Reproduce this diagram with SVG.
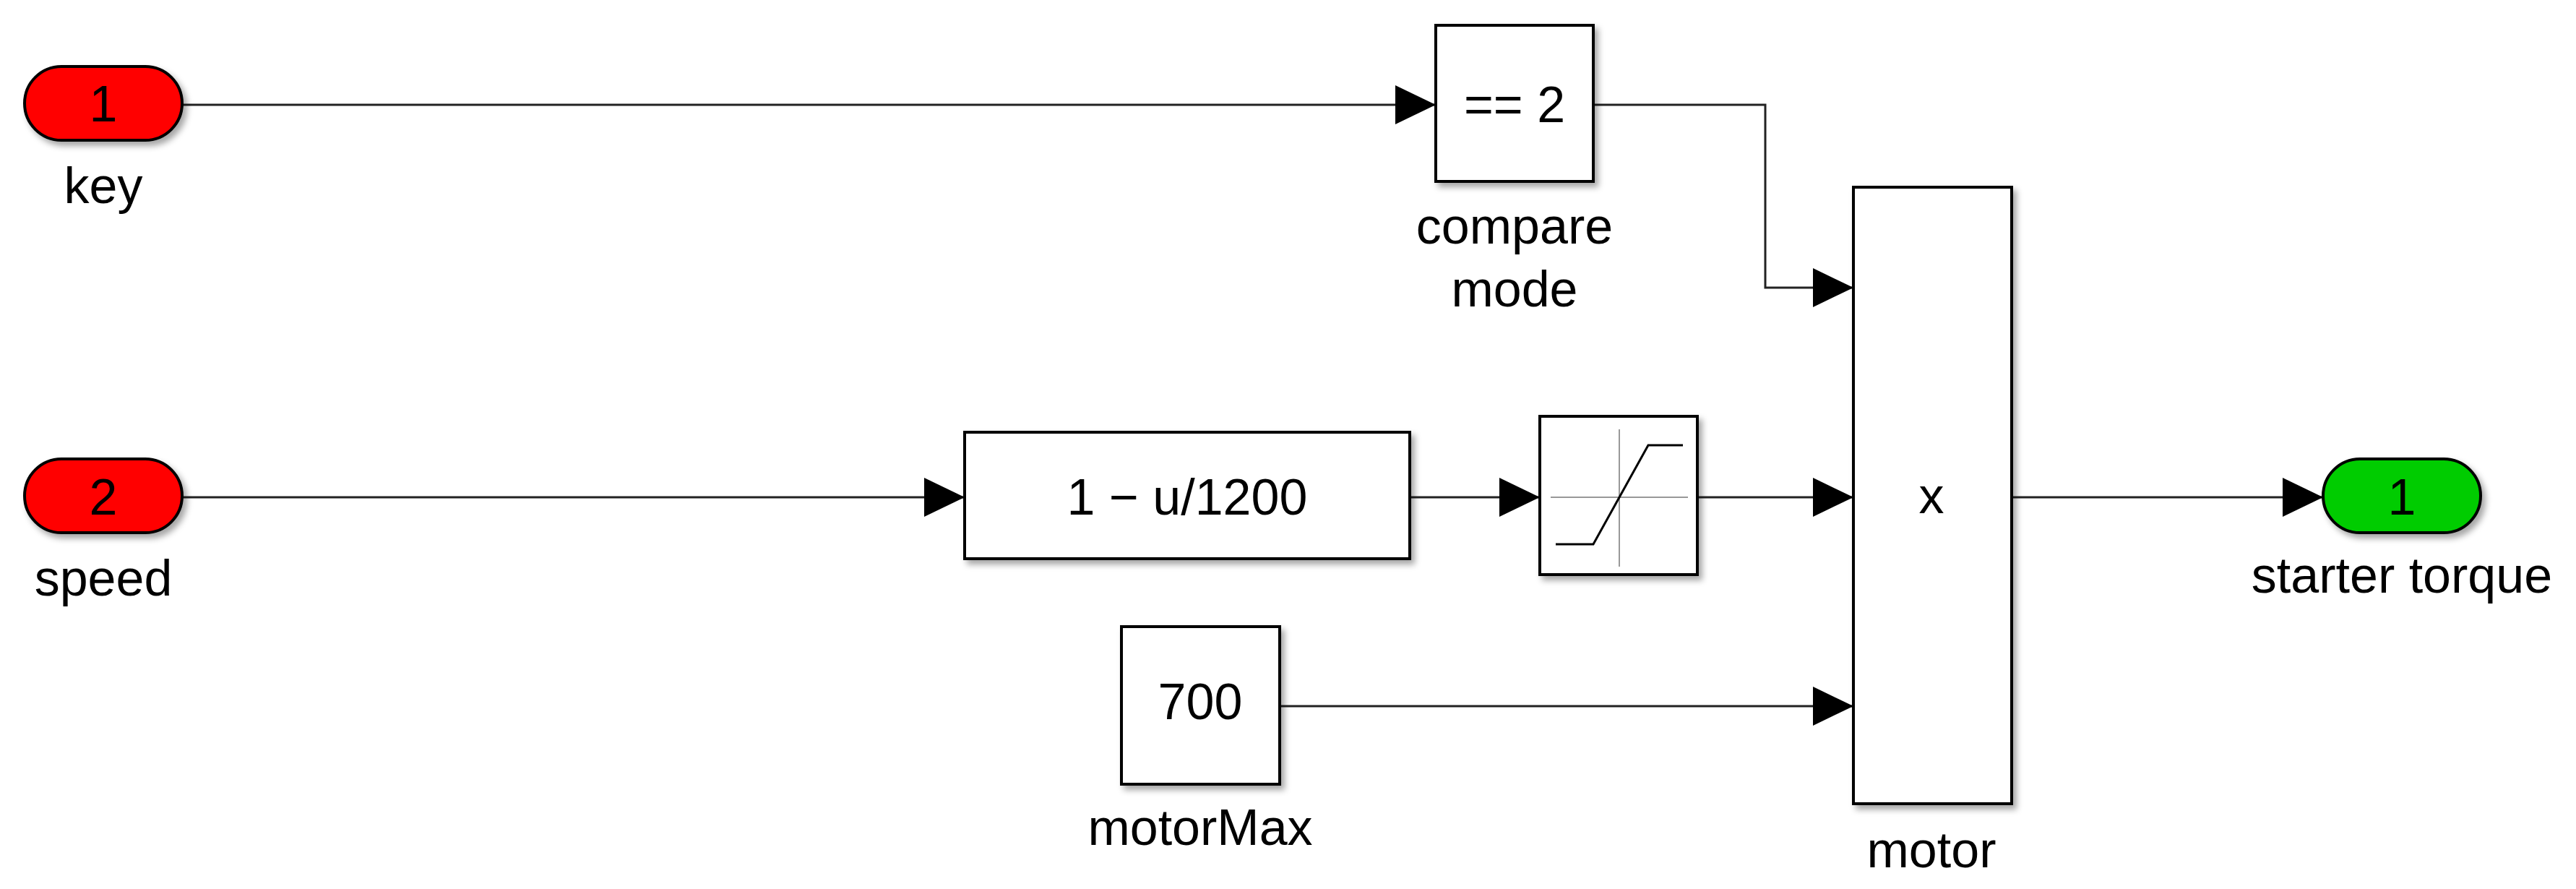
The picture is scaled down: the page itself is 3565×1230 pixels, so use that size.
<svg xmlns="http://www.w3.org/2000/svg" width="3565" height="1230" viewBox="0 0 3565 1230">
<style>
text{font-family:"Liberation Sans",Arial,sans-serif;font-size:70px;fill:#000;text-anchor:middle}
.blk{fill:#fff;stroke:#000;stroke-width:4;filter:url(#sh)}
.ln{fill:none;stroke:#222;stroke-width:3}
</style>
<defs>
<filter id="sh" x="-10%" y="-10%" width="130%" height="130%"><feDropShadow dx="5" dy="6" stdDeviation="4" flood-color="#000" flood-opacity="0.35"/></filter>
<marker id="ar" viewBox="0 0 56 54" refX="56" refY="27" markerWidth="56" markerHeight="54" markerUnits="userSpaceOnUse" orient="auto"><path d="M0,0 L56,27 L0,54 Z" fill="#000"/></marker>
</defs>
<g id="connectors">
<path class="ln" d="M252,145 H1987" marker-end="url(#ar)"/>
<path class="ln" d="M252,688 H1335" marker-end="url(#ar)"/>
<path class="ln" d="M1951,688 H2131" marker-end="url(#ar)"/>
<path class="ln" d="M2205,145 H2443 V398 H2565" marker-end="url(#ar)"/>
<path class="ln" d="M2349,688 H2565" marker-end="url(#ar)"/>
<path class="ln" d="M1771,977 H2565" marker-end="url(#ar)"/>
<path class="ln" d="M2784,688 H3215" marker-end="url(#ar)"/>
</g>
<g id="key"><rect class="blk" x="34" y="92" width="218" height="102" rx="51" fill="#f00" style="fill:#f00"/><text x="143" y="168">1</text><text x="143" y="281">key</text></g>
<g id="speed"><rect class="blk" x="34" y="635" width="218" height="102" rx="51" style="fill:#f00"/><text x="143" y="712">2</text><text x="143" y="824">speed</text></g>
<g id="compare"><rect class="blk" x="1987" y="35" width="218" height="216"/><text x="2096" y="169">== 2</text><text x="2096" y="337">compare</text><text x="2096" y="424">mode</text></g>
<g id="fcn"><rect class="blk" x="1335" y="598" width="616" height="175"/><text x="1643" y="712">1 − u/1200</text></g>
<g id="sat"><rect class="blk" x="2131" y="576" width="218" height="219"/><path d="M2146,688 H2336 M2241,594 V784" stroke="#999" stroke-width="2" fill="none"/><path d="M2153,753 H2205 L2281,616 H2329" stroke="#000" stroke-width="3" fill="none"/></g>
<g id="motorMax"><rect class="blk" x="1552" y="867" width="219" height="218"/><text x="1661" y="995">700</text><text x="1661" y="1169">motorMax</text></g>
<g id="motor"><rect class="blk" x="2565" y="259" width="219" height="853"/><text x="2673" y="710">x</text><text x="2673" y="1200">motor</text></g>
<g id="out"><rect class="blk" x="3215" y="635" width="218" height="102" rx="51" style="fill:#0c0"/><text x="3324" y="712">1</text><text x="3324" y="820">starter torque</text></g>
</svg>
